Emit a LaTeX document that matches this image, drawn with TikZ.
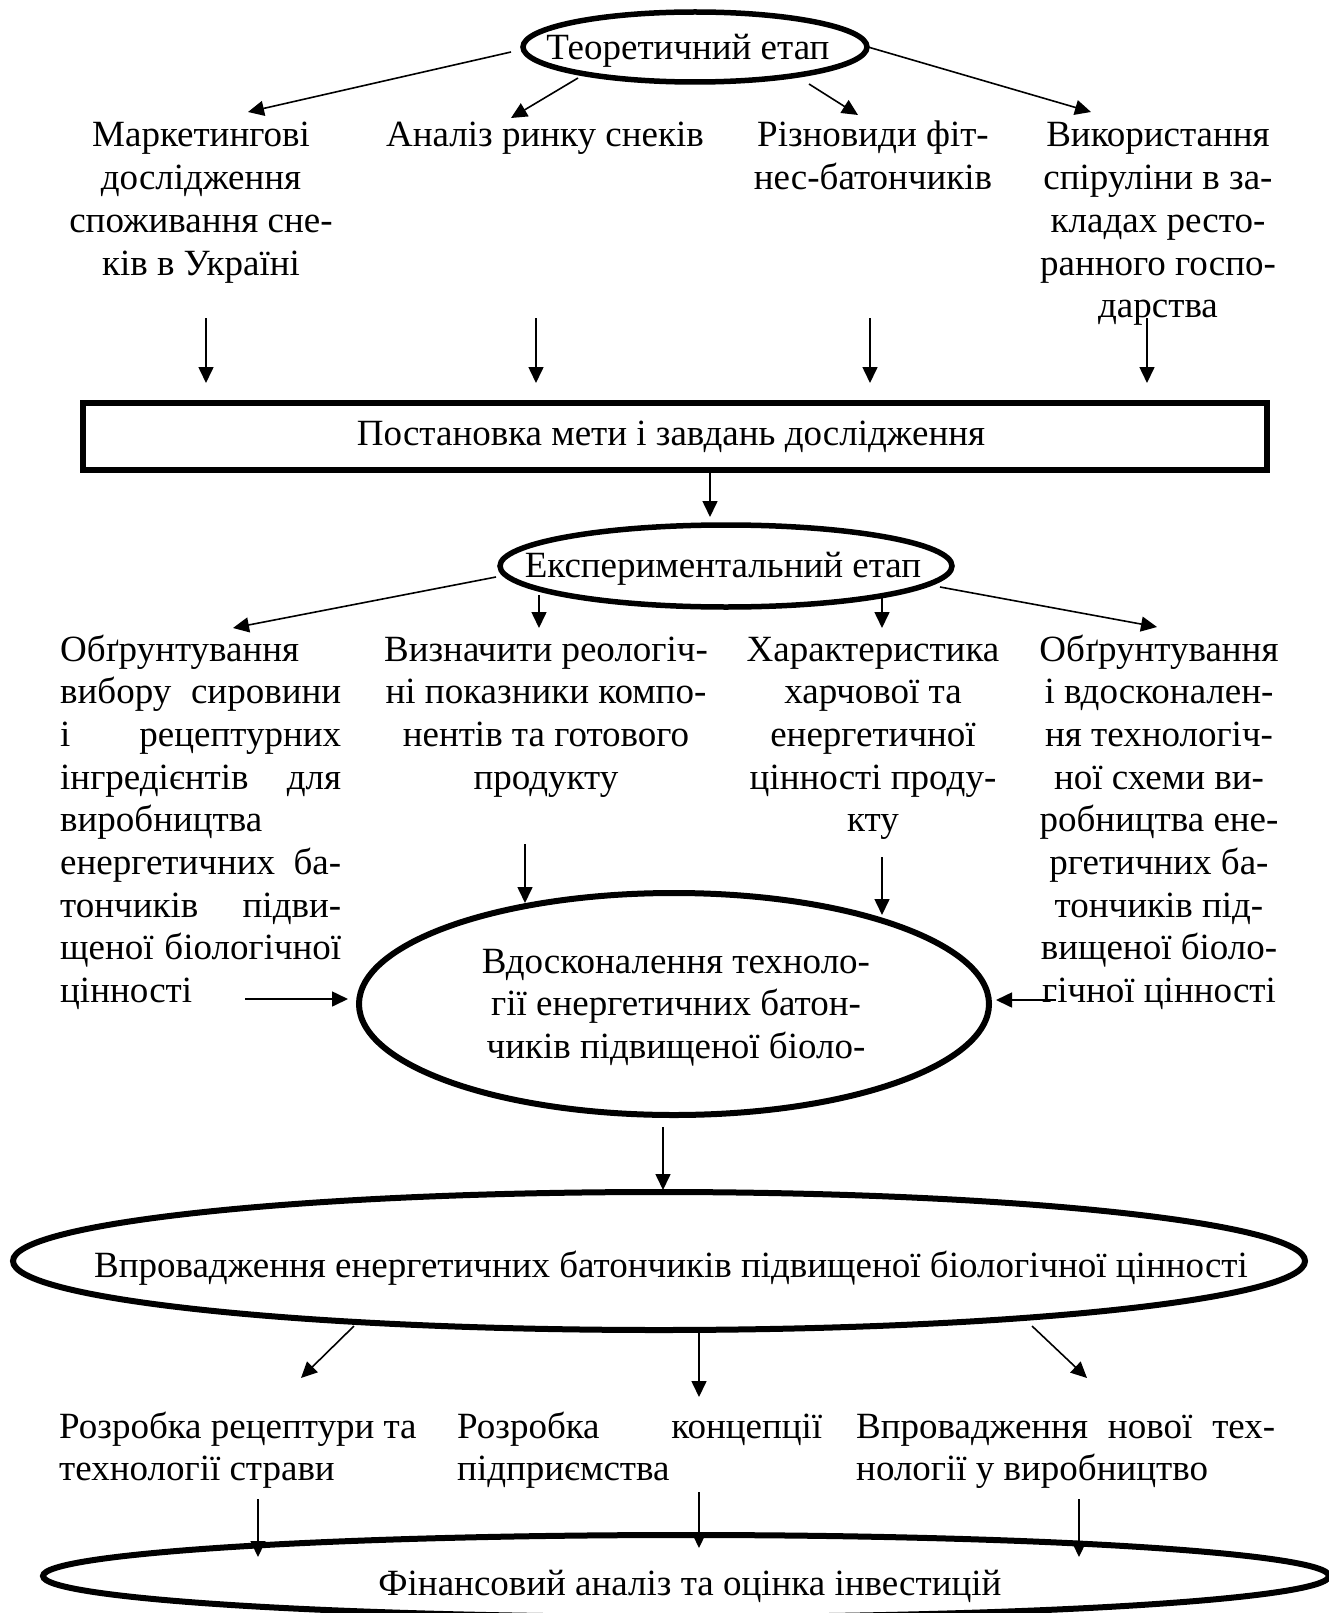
\documentclass[tikz,border=0pt]{standalone}
\usepackage{fontspec}
\setmainfont{Liberation Serif}
\usetikzlibrary{arrows.meta,shapes.geometric}
% multi-line text blocks; the baseline of the block is the baseline of its first line
\newcommand{\clines}[1]{\vtop{\baselineskip=42.7pt\lineskiplimit=-100pt\halign{\hfil##\hfil\cr#1\crcr}}}
\newcommand{\llines}[1]{\vtop{\baselineskip=42.7pt\lineskiplimit=-100pt\halign{##\hfil\cr#1\crcr}}}
\begin{document}
\begin{tikzpicture}[x=1pt,y=-1pt,
  txt/.style={inner sep=0pt, anchor=base, font=\fontsize{37}{42.7}\selectfont},
  ltxt/.style={txt, anchor=base west},
  oval/.style={ellipse, draw, line width=5.5pt, inner sep=0pt},
  frame/.style={rectangle, draw, line width=5.5pt, inner sep=0pt},
  arr/.style={line width=1.6pt, -{Triangle[length=16pt,width=15pt]}}]
\useasboundingbox (0,0) rectangle (1328,1613);

% ---- theoretical stage ----
\node[oval, minimum width=344pt, minimum height=70pt] (theo) at (695,47) {};
\node[txt] (theotxt) at (688,60) {Теоретичний етап};

\node[txt] (m1) at (201,147) {\clines{Маркетингові\cr дослідження\cr споживання сне-\cr ків в Україні}};
\node[txt] (m2) at (545,147) {Аналіз ринку снеків};
\node[txt] (m3) at (873,147) {\clines{Різновиди фіт-\cr нес-батончиків}};
\node[txt] (m4) at (1158,147) {\clines{Використання\cr спіруліни в за-\cr кладах ресто-\cr ранного госпо-\cr дарства}};

% ---- goal ----
\node[frame, minimum width=1184pt, minimum height=67pt] (goal) at (675,436.5) {};
\node[txt] (goaltxt) at (671,445) {Постановка мети і завдань дослідження};

% ---- experimental stage ----
\node[oval, minimum width=452pt, minimum height=82pt] (exper) at (726,566) {};
\node[txt] (expertxt) at (723,577) {Експериментальний етап};

\node[ltxt] (r1) at (60,661) {\llines{Обґрунтування\cr
  \hbox to 281pt{вибору\hfill сировини}\cr
  \hbox to 281pt{і\hfill рецептурних}\cr
  \hbox to 281pt{інгредієнтів\hfill для}\cr
  виробництва\cr
  \hbox to 281pt{енергетичних\hfill ба-}\cr
  \hbox to 281pt{тончиків\hfill підви-}\cr
  \hbox to 281pt{щеної\hfill біологічної}\cr
  цінності}};
\node[txt] (r2) at (546,661) {\clines{Визначити реологіч-\cr ні показники компо-\cr нентів та готового\cr продукту}};
\node[txt] (r3) at (873,661) {\clines{Характеристика\cr харчової та\cr енергетичної\cr цінності проду-\cr кту}};
\node[txt] (r4) at (1159,661) {\clines{Обґрунтування\cr і вдосконален-\cr ня технологіч-\cr ної схеми ви-\cr робництва ене-\cr ргетичних ба-\cr тончиків під-\cr вищеної біоло-\cr гічної цінності}};

% ---- technology improvement ----
\node[oval, line width=6pt, minimum width=630pt, minimum height=222pt] (tech) at (674,1004) {};
\node[txt] (techtxt) at (676,973) {\clines{Вдосконалення техноло-\cr гії енергетичних батон-\cr чиків підвищеної біоло-}};

% ---- implementation ----
\node[oval, line width=6pt, minimum width=1292pt, minimum height=138pt] (impl) at (659,1261) {};
\node[txt] (impltxt) at (671,1277) {Впровадження енергетичних батончиків підвищеної біологічної цінності};

\node[ltxt] (p1) at (59,1438) {\llines{Розробка рецептури та\cr технології страви}};
\node[ltxt] (p2) at (457,1438) {\llines{\hbox to 365pt{Розробка\hfill концепції}\cr підприємства}};
\node[ltxt] (p3) at (856,1438) {\llines{\hbox to 419pt{Впровадження\hfill нової\hfill тех-}\cr нології у виробництво}};

% ---- financial analysis ----
\node[oval, line width=6pt, minimum width=1286pt, minimum height=82pt] (fin) at (686,1576) {};
\node[txt] (fintxt) at (690,1595) {Фінансовий аналіз та оцінка інвестицій};

% ---- connector end points ----
\coordinate (a1s) at (511,52);   \coordinate (a1e) at (248,112);
\coordinate (a2s) at (578,78);   \coordinate (a2e) at (511,118);
\coordinate (a3s) at (809,84);   \coordinate (a3e) at (858,115);
\coordinate (a4s) at (868,47);   \coordinate (a4e) at (1091,112);
\coordinate (d1s) at (206,318);  \coordinate (d1e) at (206,383);
\coordinate (d2s) at (536,318);  \coordinate (d2e) at (536,383);
\coordinate (d3s) at (870,318);  \coordinate (d3e) at (870,383);
\coordinate (d4s) at (1147,318); \coordinate (d4e) at (1147,383);
\coordinate (gs) at (710,470);   \coordinate (ge) at (710,517);
\coordinate (b1s) at (496,577);  \coordinate (b1e) at (233,628);
\coordinate (b2s) at (539,595);  \coordinate (b2e) at (539,628);
\coordinate (b3s) at (882,595);  \coordinate (b3e) at (882,628);
\coordinate (b4s) at (940,587);  \coordinate (b4e) at (1157,627);
\coordinate (c1s) at (525,844);  \coordinate (c1e) at (525,903);
\coordinate (c2s) at (882,857);  \coordinate (c2e) at (882,915);
\coordinate (h1s) at (245,999);  \coordinate (h1e) at (348,999);
\coordinate (h2s) at (1056,1000); \coordinate (h2e) at (996,1000);
\coordinate (es) at (663,1127);  \coordinate (ee) at (663,1190);
\coordinate (f1s) at (354,1326); \coordinate (f1e) at (301,1378);
\coordinate (f2s) at (699,1330); \coordinate (f2e) at (699,1397);
\coordinate (f3s) at (1032,1326); \coordinate (f3e) at (1087,1378);
\coordinate (g1s) at (258,1499); \coordinate (g1e) at (258,1557);
\coordinate (g2s) at (699,1492); \coordinate (g2e) at (699,1548);
\coordinate (g3s) at (1079,1499); \coordinate (g3e) at (1079,1557);

% ---- connectors ----
\foreach \n in {a1,a2,a3,a4,d1,d2,d3,d4,g,b1,b2,b3,b4,c1,c2,h1,h2,e,f1,f2,f3,g1,g2,g3}
  \draw[arr] (\n s) -- (\n e);
\end{tikzpicture}
\end{document}
